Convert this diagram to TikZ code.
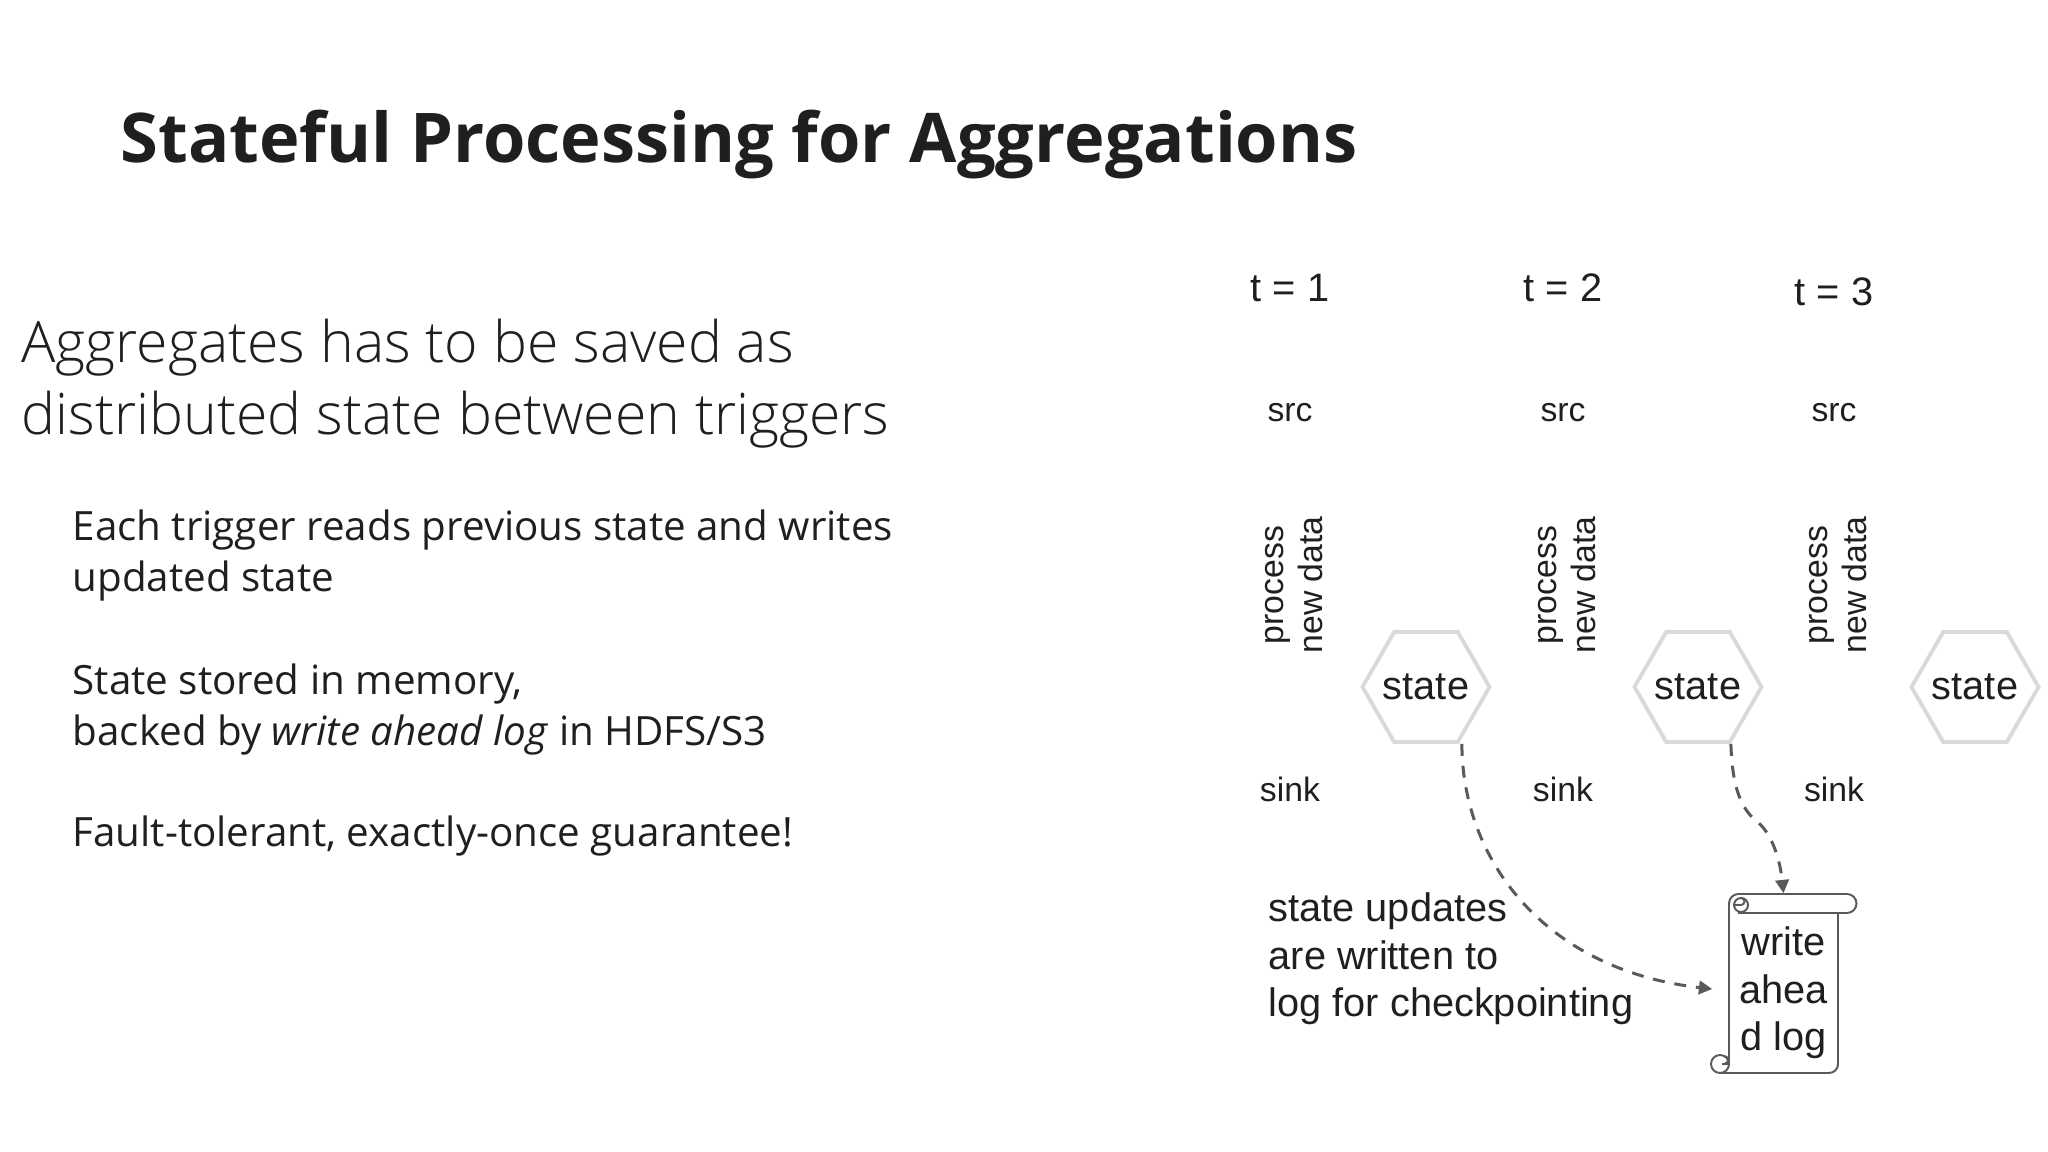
\documentclass[tikz,border=0pt]{standalone}
\usepackage{fontspec}
\setmainfont{Open Sans}
\newfontfamily\titleFont{Open Sans}
\newfontfamily\leadFont{Open Sans Light}
\newfontfamily\diagFont{Liberation Sans}
\usetikzlibrary{arrows.meta, shapes.geometric}

\definecolor{inkColour}{HTML}{1F1F1F}
\definecolor{lineColour}{HTML}{595959}
\definecolor{hexColour}{HTML}{D9D9D9}

\begin{document}
\begin{tikzpicture}[x=0.01cm, y=-0.01cm, text=inkColour,
    title/.style={inner sep=0pt, anchor=base west, font=\titleFont\bfseries\fontsize{19.5}{24}\selectfont},
    lead/.style={inner sep=0pt, anchor=base west, font=\leadFont\fontsize{16.25}{20.5}\selectfont},
    body/.style={inner sep=0pt, anchor=base west, font=\fontsize{11.47}{14.5}\selectfont},
    small/.style={inner sep=0pt, font=\diagFont\fontsize{9.6}{11.1}\selectfont},
    large/.style={inner sep=0pt, font=\diagFont\fontsize{11.3}{13.5}\selectfont},
    statebox/.style={large, regular polygon, regular polygon sides=6, draw=hexColour, line width=1.1pt, minimum size=1.27cm},
    update/.style={draw=lineColour, line width=0.85pt, dash pattern=on 3.4pt off 2.8pt, -{Triangle[length=3.8pt, width=3.8pt, fill=lineColour]}},
    scroll/.style={draw=lineColour, line width=0.55pt}]

    % Fix the page size
    \useasboundingbox (0,0) rectangle (2048,1152);

    % Draw slide text
    \node[title] (heading) at (120,163) {Stateful Processing for Aggregations};
    \node[lead] (leadA) at (21,363) {Aggregates has to be saved as};
    \node[lead] (leadB) at (21,435) {distributed state between triggers};
    \node[body] (bodyA) at (72,541) {Each trigger reads previous state and writes};
    \node[body] (bodyB) at (72,592) {updated state};
    \node[body] (bodyC) at (72,694) {State stored in memory,};
    \node[body] (bodyD) at (72,745) {backed by \textit{write ahead log} in HDFS/S3};
    \node[body] (bodyE) at (72,846) {Fault-tolerant, exactly-once guarantee!};

    % Draw one column per trigger
    \foreach \i/\colX/\tY/\hexX in {1/1290/288/1426, 2/1563/288/1698, 3/1834/292/1975} {
        \node[large] (time\i) at (\colX,\tY) {t = \i};
        \node[small] (src\i) at (\colX,413) {src};
        \node[small, rotate=90, align=center] (proc\i) at (\colX+4,585) {process\\new data};
        \node[small] (sink\i) at (\colX,789) {sink};
        \node[statebox] (state\i) at (\hexX,687) {\raisebox{-0.3pt}{\makebox[0pt]{state}}};
    }

    % Define the write ahead log
    \node[large, align=center] (walText) at (1783.5,993) {write\\ahea\\d log};
    \node[inner sep=0pt, minimum width=1.09cm, minimum height=1.79cm] (wal) at (1783.5,983.5) {};

    % Draw the scroll around the log
    \draw[scroll] (1729,1064) -- (1729,903.5) arc (180:270:9.5) -- (1847,894) arc (-90:90:9.5) -- (1738,913);
    \draw[scroll] (1741,905) circle (7);
    \draw[scroll] (1734,905) -- (1741,905) (1741,898) arc (-90:90:3.5);
    \draw[scroll] (1838,913) -- (1838,1064) arc (0:90:9) -- (1720,1073);
    \draw[scroll] (1720,1064) circle (9);
    \draw[scroll] (1729,1064) -- (1722,1064) (1724,1056) arc (-90:90:4);

    % Draw state updates
    \draw[update] ([xshift=0.03cm]state1.corner 5) .. controls (1462,860) and (1545,970) .. ([xshift=-0.16cm, yshift=-0.055cm]wal.west);
    \draw[update] (state2.corner 5) .. controls (1732,780) and (1738,805) .. (1755,820) .. controls (1772,832) and (1780,860) .. (wal.north);

    % Label the updates
    \node[large, anchor=base west, align=left] (note) at (1268,1016.5) {state updates\\are written to\\log for checkpointing};
\end{tikzpicture}
\end{document}
